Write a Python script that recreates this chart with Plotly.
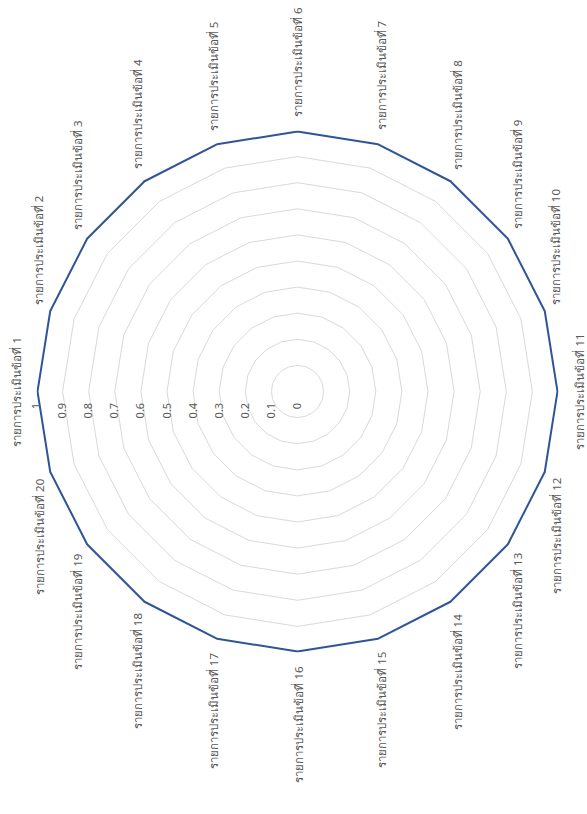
import math
import plotly.graph_objects as go

# Evaluation items and their scores
items = [f"รายการประเมินข้อที่ {i}" for i in range(1, 21)]
scores = [1] * 20
radial_ticks = [0, 0.1, 0.2, 0.3, 0.4, 0.5, 0.6, 0.7, 0.8, 0.9, 1]

W, H = 587, 814
cx, cy, R = 297.5, 391.5, 261      # polar centre and radius, px
r_max = 1.0
label_gap = 11                     # px between outer ring and category label

fig = go.Figure()
fig.add_trace(go.Scatterpolar(
    r=scores + scores[:1],
    theta=items + items[:1],
    mode="lines",
    line=dict(color="#2F5597", width=4),
    showlegend=False,
))

# Category labels, written sideways just outside the outer ring
n = len(items)
annotations = []
for i, name in enumerate(items):
    ang = math.radians(180 - 360 * i / n)          # first item on the left, clockwise
    rad = R * r_max + label_gap
    px = cx + rad * math.cos(ang)
    py = cy - rad * math.sin(ang)
    s = math.sin(ang)
    if abs(s) < 1e-6:
        xanchor = "right" if math.cos(ang) < 0 else "left"
        yanchor = "middle"
    else:
        xanchor = "center"
        yanchor = "bottom" if s > 0 else "top"
    annotations.append(dict(
        text=name, x=px / W, y=1 - py / H, xref="paper", yref="paper",
        xanchor=xanchor, yanchor=yanchor, textangle=-90, showarrow=False,
        font=dict(size=11.5, color="#595959"),
    ))

fig.update_layout(
    width=W, height=H,
    margin=dict(l=0, r=0, t=0, b=0),
    paper_bgcolor="white",
    plot_bgcolor="white",
    font=dict(family="Tahoma, Leelawadee UI, Noto Sans, sans-serif", color="#595959"),
    annotations=annotations,
    polar=dict(
        domain=dict(x=[(cx - R) / W, (cx + R) / W],
                    y=[(H - cy - R) / H, (H - cy + R) / H]),
        bgcolor="white",
        gridshape="linear",
        angularaxis=dict(
            rotation=180,
            direction="clockwise",
            showgrid=False,
            showline=False,
            showticklabels=False,
            ticks="",
        ),
        radialaxis=dict(
            range=[0, r_max],
            tickvals=radial_ticks,
            ticktext=[f"{v:g}" for v in radial_ticks],
            angle=180,
            side="counterclockwise",
            tickangle=90,
            showline=False,
            ticks="outside",
            ticklen=7,
            tickcolor="rgba(0,0,0,0)",
            gridcolor="#D9D9D9",
            gridwidth=1,
            tickfont=dict(size=11, color="#595959"),
        ),
    ),
)

fig.write_html("out.html")
